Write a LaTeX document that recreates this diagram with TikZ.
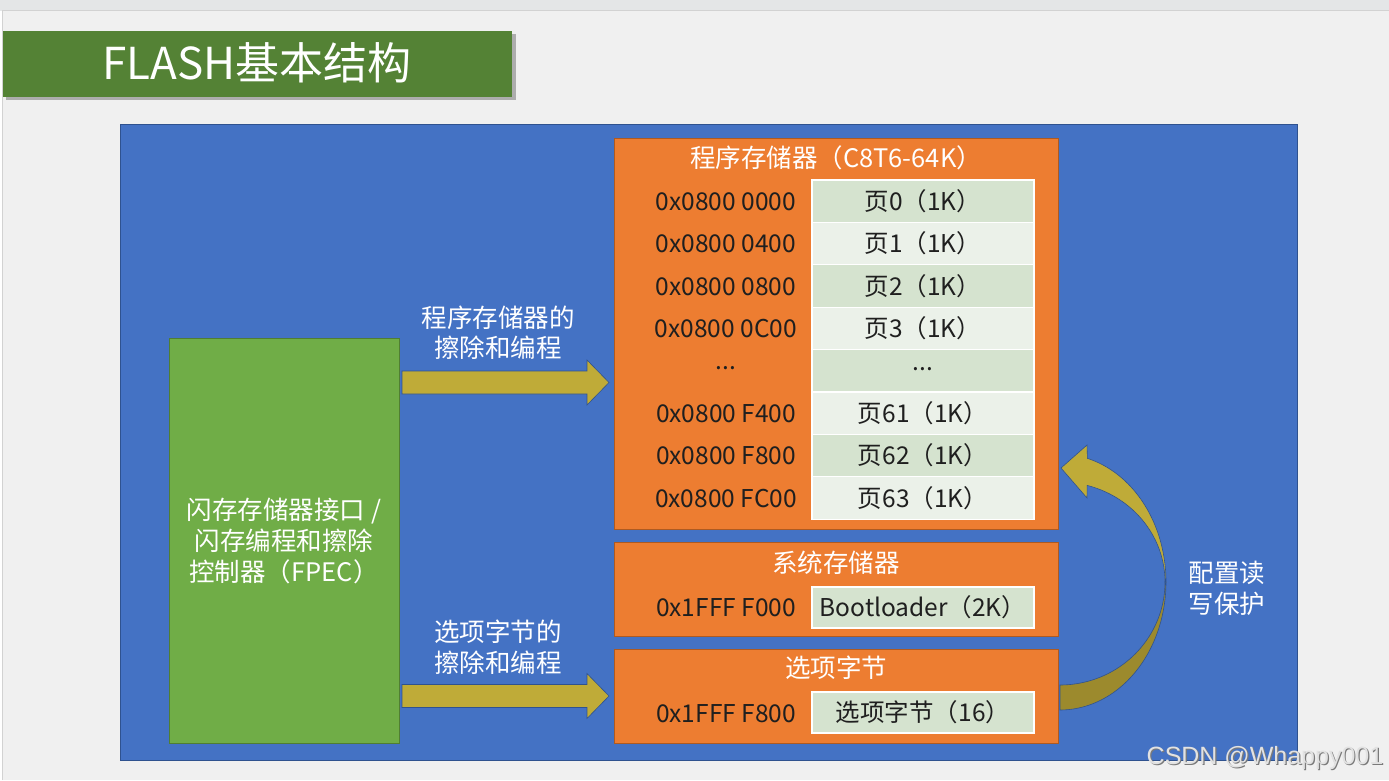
\documentclass[tikz,border=0pt]{standalone}
\usepackage{fontspec}
\newfontfamily\cjk{Noto Sans CJK SC}
\newfontfamily\wmfont{Liberation Sans}
\definecolor{bgc}{HTML}{F0F0F0}
\definecolor{topc}{HTML}{E4E6E7}
\definecolor{linec}{HTML}{D2D2D2}
\definecolor{titleg}{HTML}{548235}
\definecolor{blu}{HTML}{4472C4}
\definecolor{bluedge}{HTML}{2F528F}
\definecolor{grn}{HTML}{70AD47}
\definecolor{grnedge}{HTML}{507E32}
\definecolor{org}{HTML}{ED7D31}
\definecolor{orgedge}{HTML}{AE5A21}
\definecolor{celld}{HTML}{D5E3CF}
\definecolor{celll}{HTML}{EBF1E9}
\definecolor{gold}{HTML}{BFAB38}
\definecolor{golddk}{HTML}{9C8A2D}
\definecolor{txt}{HTML}{1F1F1F}
\definecolor{wmc}{HTML}{E2E2E2}
\definecolor{wms}{HTML}{7A7A7A}
\begin{document}
\begin{tikzpicture}[x=1pt,y=-1pt,
  every node/.style={inner sep=0pt, outer sep=0pt},
  panel/.style={anchor=north west},
  whitetxt/.style={font=\cjk\fontsize{25.5}{30}\selectfont, text=white, text height=19pt, text depth=1pt},
  blacktxt/.style={font=\cjk\fontsize{24.5}{30}\selectfont, text=txt, text height=19pt, text depth=1pt},
  pagecell/.style={panel, minimum width=222pt, minimum height=42.4pt, draw=white, line width=1.2pt, blacktxt},
  orangebox/.style={panel, fill=org, draw=orgedge, line width=1pt, minimum width=444pt},
  blockarrow/.style={fill=gold, draw=bluedge, line width=0.6pt},
  bendarrow/.style={draw=bluedge, line width=0.6pt}
]
\useasboundingbox (0,0) rectangle (1389,780);
\fill[topc] (0,0) rectangle (1389,10.5);
\fill[bgc] (2,10.5) rectangle (1389,780);
\draw[linec, line width=0.8pt] (2,780) -- (2,10.5) -- (1389,10.5);

% title
\fill[black, opacity=0.28] (6,34) rectangle (516,100);
\node[panel, fill=titleg, minimum width=509pt, minimum height=66pt] (titlebar) at (3,31) {};
\node[font=\cjk\fontsize{44}{50}\selectfont, text=white, text height=33pt, text depth=1pt] (title) at (257,63) {FLASH基本结构};

% blue background
\node[panel, fill=blu, draw=bluedge, line width=0.8pt, minimum width=1177pt, minimum height=636pt] (bg) at (120,124) {};

% FPEC
\node[panel, fill=grn, draw=grnedge, line width=0.8pt, minimum width=230pt, minimum height=405pt] (fpec) at (169,338) {};
\node[whitetxt] (f1) at (284,510) {闪存存储器接口 /};
\node[whitetxt] (f2) at (284,541) {闪存编程和擦除};
\node[whitetxt] (f3) at (284,572) {控制器（FPEC）};

% program memory
\node[orangebox, minimum height=391pt] (prog) at (614,138) {};
\node[whitetxt] (progt) at (836,158) {程序存储器（C8T6-64K）};
\foreach \i/\ad/\pg/\cc in {0/0x0800 0000/页0（1K）/celld, 1/0x0800 0400/页1（1K）/celll,
  2/0x0800 0800/页2（1K）/celld, 3/0x0800 0C00/页3（1K）/celll, 5/0x0800 F400/页61（1K）/celll,
  6/0x0800 F800/页62（1K）/celld, 7/0x0800 FC00/页63（1K）/celll} {
  \node[pagecell, fill=\cc] (cell\i) at (812,{180+42.4*\i}) {\pg};
  \node[blacktxt] (addr\i) at (726,{201.2+42.4*\i}) {\ad};
}
\node[pagecell, fill=celld] (cell4) at (812,349.6) {\raisebox{9pt}{...}};
\node[blacktxt] (addr4) at (726,371) {\raisebox{11pt}{...}};

% system memory
\node[orangebox, minimum height=94pt] (sys) at (614,542) {};
\node[whitetxt] (syst) at (836,563) {系统存储器};
\node[pagecell, fill=celld, minimum height=41pt] (boot) at (812,587) {Bootloader（2K）};
\node[blacktxt] (sysaddr) at (726,607) {0x1FFF F000};

% option bytes
\node[orangebox, minimum height=94pt] (opt) at (614,649) {};
\node[whitetxt] (optt) at (836,668) {选项字节};
\node[pagecell, fill=celld, minimum height=41pt] (optcell) at (812,692) {选项字节（16）};
\node[blacktxt] (optaddr) at (726,713) {0x1FFF F800};

% straight block arrows (FPEC -> memories)
\filldraw[blockarrow] (402,371) -- (587,371) -- (587,360) -- (609,382.5) -- (587,405) -- (587,394) -- (402,394) -- cycle;
\filldraw[blockarrow] (402,684.5) -- (587,684.5) -- (587,673.5) -- (609,696) -- (587,718.5) -- (587,707.5) -- (402,707.5) -- cycle;
\node[whitetxt] (l1a) at (498,318) {程序存储器的};
\node[whitetxt] (l1b) at (498,348) {擦除和编程};
\node[whitetxt] (l2a) at (498,632) {选项字节的};
\node[whitetxt] (l2b) at (498,663) {擦除和编程};

% curved arrow (option bytes -> program memory)
\filldraw[bendarrow, fill=golddk]
  plot[domain=0:-90, samples=40] ({1060+106*cos(\x)},{582-128*sin(\x)})
  -- plot[domain=-90:0, samples=40] ({1060+105*cos(\x)},{582-103*sin(\x)}) -- cycle;
\filldraw[bendarrow, fill=gold]
  plot[domain=0:75, samples=40] ({1060+106*cos(\x)},{582-128*sin(\x)})
  -- (1087,445) -- (1061,468) -- (1087,498)
  -- plot[domain=75:0, samples=40] ({1060+105*cos(\x)},{582-100*sin(\x)}) -- cycle;
\node[whitetxt] (p1) at (1227,573) {配置读};
\node[whitetxt] (p2) at (1227,604) {写保护};

% watermark
\node[font=\wmfont\fontsize{25}{30}\selectfont, text=wms, text height=18pt, text depth=1pt] (wmsh) at (1266.2,757.2) {CSDN @Whappy001};
\node[font=\wmfont\fontsize{25}{30}\selectfont, text=wmc, text height=18pt, text depth=1pt] (wm) at (1265,756) {CSDN @Whappy001};
\end{tikzpicture}
\end{document}
